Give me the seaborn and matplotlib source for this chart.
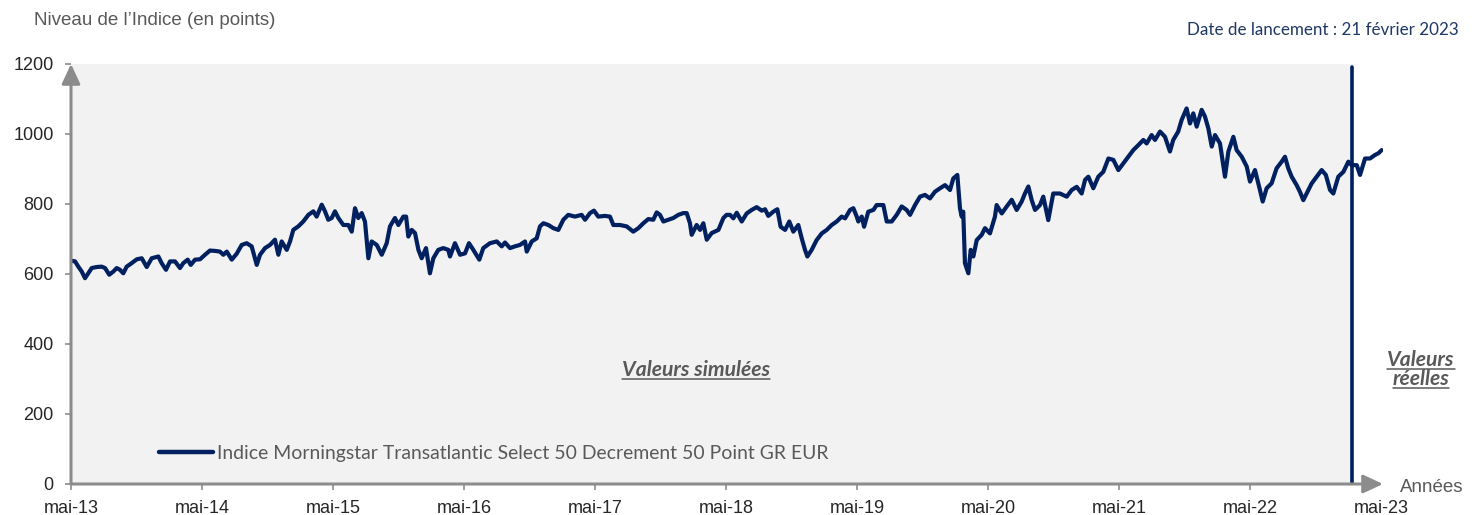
import matplotlib
matplotlib.use("Agg")
import matplotlib.pyplot as plt
from matplotlib.lines import Line2D
import seaborn as sns
import pandas as pd

# ---------------- data ----------------
years = [
    2013.333, 2013.364, 2013.389, 2013.415, 2013.440, 2013.465, 2013.491, 2013.529, 2013.567, 2013.593,
    2013.625, 2013.656, 2013.682, 2013.707, 2013.732, 2013.758, 2013.796, 2013.835, 2013.873, 2013.911,
    2013.949, 2014.000, 2014.025, 2014.058, 2014.089, 2014.127, 2014.165, 2014.190, 2014.224, 2014.247,
    2014.280, 2014.318, 2014.356, 2014.394, 2014.432, 2014.470, 2014.496, 2014.522, 2014.560, 2014.598,
    2014.636, 2014.674, 2014.712, 2014.751, 2014.776, 2014.814, 2014.852, 2014.890, 2014.916, 2014.941,
    2014.980, 2015.005, 2015.030, 2015.068, 2015.106, 2015.145, 2015.183, 2015.208, 2015.247, 2015.272,
    2015.297, 2015.323, 2015.348, 2015.374, 2015.412, 2015.450, 2015.476, 2015.501, 2015.526, 2015.552,
    2015.577, 2015.603, 2015.628, 2015.667, 2015.705, 2015.743, 2015.768, 2015.806, 2015.832,
    2015.870, 2015.891, 2015.908, 2015.934, 2015.959, 2015.985, 2016.010, 2016.043, 2016.073, 2016.099,
    2016.137, 2016.175, 2016.213, 2016.226, 2016.264, 2016.303, 2016.341, 2016.371, 2016.404, 2016.450,
    2016.480, 2016.531, 2016.583, 2016.621, 2016.646, 2016.684, 2016.722, 2016.760, 2016.799, 2016.812,
    2016.850, 2016.888, 2016.913, 2016.939, 2016.977, 2017.015, 2017.053, 2017.091, 2017.129, 2017.180,
    2017.231, 2017.257, 2017.295, 2017.325, 2017.358, 2017.409, 2017.447, 2017.473, 2017.524, 2017.575,
    2017.625, 2017.664, 2017.702, 2017.740, 2017.778, 2017.804, 2017.829, 2017.855, 2017.893, 2017.931,
    2017.969, 2018.007, 2018.033, 2018.058, 2018.071, 2018.109, 2018.135, 2018.160, 2018.186, 2018.224,
    2018.275, 2018.313, 2018.338,
    2018.364, 2018.389, 2018.415, 2018.453, 2018.491, 2018.529, 2018.567, 2018.606, 2018.631, 2018.656,
    2018.694, 2018.725, 2018.750, 2018.784, 2018.816, 2018.847, 2018.885, 2018.911, 2018.936, 2018.954,
    2018.987, 2019.025, 2019.064, 2019.102, 2019.140, 2019.178, 2019.216, 2019.242, 2019.280, 2019.305,
    2019.331, 2019.343, 2019.369, 2019.387, 2019.419, 2019.458, 2019.483, 2019.534, 2019.560, 2019.598,
    2019.636, 2019.674, 2019.712, 2019.738, 2019.776, 2019.814, 2019.852, 2019.890, 2019.928, 2019.967,
    2020.005, 2020.043, 2020.068, 2020.099, 2020.119, 2020.132, 2020.144, 2020.157, 2020.183, 2020.201,
    2020.221, 2020.247, 2020.285, 2020.310, 2020.348, 2020.386, 2020.399, 2020.438, 2020.476, 2020.514,
    2020.552, 2020.590, 2020.615, 2020.641, 2020.666, 2020.692, 2020.730, 2020.755, 2020.793, 2020.831,
    2020.869,
    2020.882, 2020.934, 2020.972, 2021.010, 2021.048, 2021.074, 2021.099, 2021.137, 2021.175, 2021.213,
    2021.252, 2021.290, 2021.328, 2021.366, 2021.404, 2021.442, 2021.480, 2021.519, 2021.544, 2021.582,
    2021.608, 2021.646, 2021.684, 2021.722, 2021.747, 2021.785, 2021.811, 2021.849, 2021.875, 2021.900,
    2021.926, 2021.964, 2021.989, 2022.015, 2022.041, 2022.066, 2022.104, 2022.142, 2022.168, 2022.206,
    2022.231, 2022.270, 2022.308, 2022.333, 2022.371, 2022.409, 2022.430, 2022.460, 2022.498, 2022.536,
    2022.575, 2022.600, 2022.625, 2022.651, 2022.689, 2022.714, 2022.740, 2022.765, 2022.804, 2022.842,
    2022.880, 2022.912, 2022.944, 2022.969, 2023.007, 2023.046, 2023.084, 2023.109, 2023.148, 2023.173,
    2023.211, 2023.249, 2023.287, 2023.313, 2023.338,
]

values = [
    638, 636, 621, 607, 588, 602, 617, 620, 621, 617,
    598, 607, 617, 612, 602, 621, 631, 642, 645, 620,
    645, 650, 631, 612, 636, 636, 617, 631, 641, 626,
    641, 642, 655, 667, 666, 664, 655, 664, 641, 658,
    683, 688, 679, 626, 655, 674, 683, 698, 655, 693,
    669, 693, 726, 736, 750, 769, 779, 764, 798, 779,
    755, 760, 779, 760, 740, 740, 721, 788, 760, 774,
    750, 645, 693, 683, 655, 688, 736, 760, 740,
    764, 764, 707, 726, 717, 669, 645, 674, 602, 645,
    669, 674, 669, 650, 688, 655, 659, 688, 669, 641,
    674, 688, 693, 679, 690, 674, 679, 683, 693, 664,
    693, 702, 736, 745, 740, 731, 726, 755, 769, 764,
    769, 755, 774, 781, 764, 766, 764, 740, 740, 736,
    721, 731, 745, 757, 755, 776, 769, 750, 755, 760,
    769, 774, 774, 745, 712, 740, 726, 745, 698, 717,
    726, 760, 769,
    769, 759, 775, 750, 773, 783, 791, 781, 785, 766,
    778, 785, 735, 726, 750, 721, 740, 702, 669, 650,
    669, 697, 716, 726, 740, 750, 764, 759, 783, 788,
    764, 750, 764, 735, 778, 783, 797, 797, 750, 750,
    769, 793, 783, 769, 797, 821, 826, 816, 835, 845,
    854, 840, 873, 883, 788, 764, 778, 631, 602, 669,
    650, 697, 712, 731, 716, 764, 797, 773, 793, 812,
    783, 807, 830, 850, 812, 783, 797, 821, 754, 830,
    830,
    830, 821, 840, 849, 830, 869, 878, 845, 878, 892,
    930, 926, 897, 916, 935, 954, 968, 983, 973, 997,
    983, 1007, 992, 950, 983, 1007, 1040, 1073, 1030, 1059,
    1021, 1069, 1050, 1016, 964, 997, 973, 878, 950, 992,
    954, 935, 907, 864, 897, 840, 807, 845, 859, 902,
    921, 935, 902, 878, 854, 835, 811, 830, 859, 878,
    897, 883, 840, 830, 878, 892, 921, 911, 911, 883,
    930, 930, 940, 945, 954,
]

tick_years = [2013.333, 2014.333, 2015.333, 2016.333, 2017.333, 2018.333,
              2019.333, 2020.333, 2021.333, 2022.333, 2023.333]
tick_labels = ["mai-13", "mai-14", "mai-15", "mai-16", "mai-17", "mai-18",
               "mai-19", "mai-20", "mai-21", "mai-22", "mai-23"]
y_ticks = [0, 200, 400, 600, 800, 1000, 1200]
launch_year = 2023.109

series_name = "Indice Morningstar Transatlantic Select 50 Decrement 50 Point GR EUR"
y_title = "Niveau de l\u2019Indice (en points)"
x_title = "Années"
launch_text = "Date de lancement : 21 février 2023"
sim_text = "Valeurs simulées"
real_lines = ["Valeurs", "réelles"]

# ---------------- styling ----------------
NAVY = "#002060"
AX_GRAY = "#8c8c8c"
TXT_GRAY = "#595959"
TICK_TXT = "#262626"
BG = "#f2f2f2"
DATE_COL = "#1f3864"

sns.set_theme(style="white")
plt.rcParams["font.family"] = ["Liberation Sans", "DejaVu Sans"]
HUM = ["Lato", "DejaVu Sans"]

W, H = 1480, 515
fig = plt.figure(figsize=(W / 100, H / 100), dpi=100)
fig.patch.set_facecolor("white")
renderer = fig.canvas.get_renderer()

L, R, T, B = 71, 1383, 64, 484
ax = fig.add_axes([L / W, 1 - B / H, (R - L) / W, (B - T) / H])
px_per_year = 131.0
xmin = tick_years[0]
xmax = xmin + (R - L) / px_per_year
ax.set_xlim(xmin, xmax)
ax.set_ylim(0, 1200)
ax.set_facecolor("none")
ax.grid(False)

ax.axvspan(xmin, launch_year, color=BG, lw=0, zorder=0)

df = pd.DataFrame({"date": years, "value": values})
sns.lineplot(data=df, x="date", y="value", ax=ax, color=NAVY, linewidth=3.0,
             label=series_name, zorder=3, solid_joinstyle="round")
ax.axvline(launch_year, ymin=0, ymax=(B - 67) / (B - T), color=NAVY, lw=2.6, zorder=3)

for s in ax.spines.values():
    s.set_visible(False)
ax.set_xlabel("")
ax.set_ylabel("")

arrow_kw = dict(arrowstyle="-|>,head_length=0.75,head_width=0.35", color=AX_GRAY,
                lw=2.2, shrinkA=0, shrinkB=0, mutation_scale=16)
ax.annotate("", xy=(1, 0), xytext=(0, 0), xycoords="axes fraction",
            textcoords="axes fraction", arrowprops=arrow_kw, annotation_clip=False, zorder=4)
ax.annotate("", xy=(0, 1), xytext=(0, 0), xycoords="axes fraction",
            textcoords="axes fraction", arrowprops=arrow_kw, annotation_clip=False, zorder=4)

ax.set_xticks(tick_years)
ax.set_xticklabels(tick_labels)
ax.set_yticks(y_ticks)
ax.set_yticklabels([str(v) for v in y_ticks])
ax.tick_params(axis="both", which="major", direction="out", length=4.5, width=1.2,
               color=AX_GRAY, labelsize=13, labelcolor=TICK_TXT, left=True, bottom=True)
ax.tick_params(axis="y", pad=8)
ax.tick_params(axis="x", pad=7)
ax.xaxis.get_major_ticks()[-1].tick1line.set_visible(False)


def fit_size(text, target_px, **kw):
    t = fig.text(0, 0, text, fontsize=20, **kw)
    w = t.get_window_extent(renderer).width
    t.remove()
    return 20 * target_px / w


def fy(px):
    return 1 - px / H


# titles
fig.text(34 / W, fy(25), y_title, ha="left", va="baseline", color=TXT_GRAY, fontsize=13.5)
fig.text(1400 / W, fy(492), x_title, ha="left", va="baseline", color=TXT_GRAY, fontsize=13.5)

fs_date = fit_size(launch_text, 271, family=HUM)
fig.text(1187 / W, fy(35), launch_text, ha="left", va="baseline", color=DATE_COL,
         fontsize=fs_date, family=HUM)

# annotations with underline
bi = dict(family=HUM, weight="bold", style="italic")
fs_sim = fit_size(sim_text, 148, **bi)


def underlined(x_center_px, baseline_px, text):
    t = fig.text(x_center_px / W, fy(baseline_px), text, ha="center", va="baseline",
                 color=TXT_GRAY, fontsize=fs_sim, **bi)
    bb = t.get_window_extent(renderer)
    yl = fy(baseline_px + 2.5)
    fig.add_artist(Line2D([bb.x0 / W, bb.x1 / W], [yl, yl], transform=fig.transFigure,
                          color=TXT_GRAY, lw=1.1))


underlined(696, 376, sim_text)
underlined(1421, 366, real_lines[0])
underlined(1421, 385, real_lines[1])

# legend
fs_leg = fit_size(series_name, 614, family=HUM)
fs_px = fs_leg * 100 / 72
handles, labels = ax.get_legend_handles_labels()
leg = ax.legend(handles, labels, loc="center left", bbox_to_anchor=(159 / W, fy(453)),
                bbox_transform=fig.transFigure, frameon=False, borderpad=0, borderaxespad=0,
                handlelength=54 / fs_px, handletextpad=4 / fs_px,
                prop={"family": HUM, "size": fs_leg})
for t in leg.get_texts():
    t.set_color(TXT_GRAY)
for ln in leg.get_lines():
    ln.set_linewidth(3.2)

fig.savefig("out.png", dpi=100, facecolor="white")
